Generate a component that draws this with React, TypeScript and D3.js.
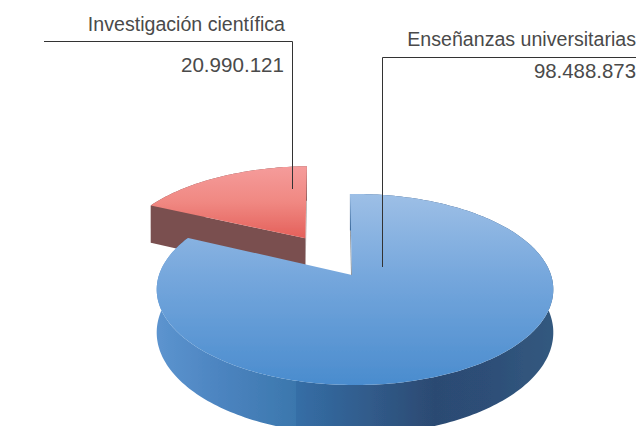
import React from "react";
import * as d3 from "d3";

const categories = ["Enseñanzas universitarias", "Investigación científica"];
const values = [98488873, 20990121];
const valueLabels = ["98.488.873", "20.990.121"];

const width = 636;
const height = 426;
const startAngle = (-1.7 * Math.PI) / 180;
const explode = [0, 0.5];
const apexShift = [0, 4];
const rimShift = [3, 4]; // blue apex sits a bit left of its rim centre in the picture

// perspective of the pie plate, fitted on the reference
const originX = 352;
const originY = 275;
const scaleX = 196;
const scaleY = 93.3;
const tilt = 0.152;
const depth = 42;

type Pt = [number, number];

function project(u: number, v: number, down = 0, shift = 0): Pt {
  const w = 1 + tilt * v;
  return [originX + shift + (scaleX * u) / w, originY - (scaleY * v) / w + (down * depth) / w];
}

const pie = d3
  .pie<number>()
  .sort(null)
  .startAngle(startAngle)
  .endAngle(startAngle + 2 * Math.PI);

const line = d3.line<Pt>();

function App() {
  const arcs = pie(values).map((arc, i) => {
    const mid = (arc.startAngle + arc.endAngle) / 2;
    const cu = explode[i] * Math.sin(mid);
    const cv = explode[i] * Math.cos(mid);
    const s = rimShift[i];
    const a = apexShift[i];
    const steps = d3.range(arc.startAngle, arc.endAngle, 0.02).concat(arc.endAngle);
    const rim = (down: number) =>
      steps.map((t) => project(cu + Math.sin(t), cv + Math.cos(t), down, s));
    const wall = (t: number) =>
      (line([
        project(cu, cv, 0, a),
        project(cu + Math.sin(t), cv + Math.cos(t), 0, s),
        project(cu + Math.sin(t), cv + Math.cos(t), 1, s),
        project(cu, cv, 1, a),
      ]) as string) + "Z";
    return {
      top: (line([project(cu, cv, 0, a), ...rim(0)]) as string) + "Z",
      side: (line([...rim(0), ...rim(1).reverse()]) as string) + "Z",
      startWall: wall(arc.startAngle),
      endWall: wall(arc.endAngle),
    };
  });
  const [blue, red] = arcs;

  return (
    <svg
      width={width}
      height={height}
      viewBox={`0 0 ${width} ${height}`}
      style={{ position: "absolute", left: 0, top: 0, background: "#fff" }}
      fontFamily="'Liberation Sans', Arial, sans-serif"
    >
      <defs>
        <linearGradient id="blueTop" x1="0" y1="0" x2="0" y2="1">
          <stop offset="0" stopColor="#9dbfe6" />
          <stop offset="0.45" stopColor="#74a6dc" />
          <stop offset="1" stopColor="#4a8cce" />
        </linearGradient>
        <linearGradient id="redTop" x1="0" y1="0" x2="0" y2="1">
          <stop offset="0" stopColor="#f59c9b" />
          <stop offset="0.5" stopColor="#f08882" />
          <stop offset="1" stopColor="#e4605a" />
        </linearGradient>
        <linearGradient id="blueSide" x1="0" y1="0" x2="1" y2="0">
          <stop offset="0" stopColor="#5c94cf" />
          <stop offset="0.16" stopColor="#4c84c0" />
          <stop offset="0.35" stopColor="#3b77ad" />
          <stop offset="0.352" stopColor="#356ea6" />
          <stop offset="0.7" stopColor="#2c4a72" />
          <stop offset="0.85" stopColor="#2d4f78" />
          <stop offset="1" stopColor="#33597f" />
        </linearGradient>
        <filter id="soft" x="-5%" y="-5%" width="110%" height="110%">
          <feGaussianBlur stdDeviation="0.7" />
        </filter>
      </defs>

      <g filter="url(#soft)">
        <path d={red.endWall} fill="#a9a2a2" />
        <path d={red.side} fill="#7a5050" />
        <path d={red.startWall} fill="#7a5050" />
        <path d={red.top} fill="url(#redTop)" />
        <path d={blue.startWall} fill="#8f959c" />
        <path d={blue.side} fill="url(#blueSide)" />
        <path d={blue.top} fill="url(#blueTop)" />
      </g>

      <g fill="none" stroke="#333" strokeWidth={1}>
        <path d="M44,41.5H292.5V189" />
        <path d="M636,57.5H382.5V267" />
      </g>

      <g fill="#4a4a4a" textAnchor="end">
        <text x={285} y={31} fontSize={19.6}>{categories[1]}</text>
        <text x={284} y={72} fontSize={20.6}>{valueLabels[1]}</text>
        <text x={636} y={46} fontSize={19.6}>{categories[0]}</text>
        <text x={636} y={78} fontSize={20.4}>{valueLabels[0]}</text>
      </g>
    </svg>
  );
}

export default App;
